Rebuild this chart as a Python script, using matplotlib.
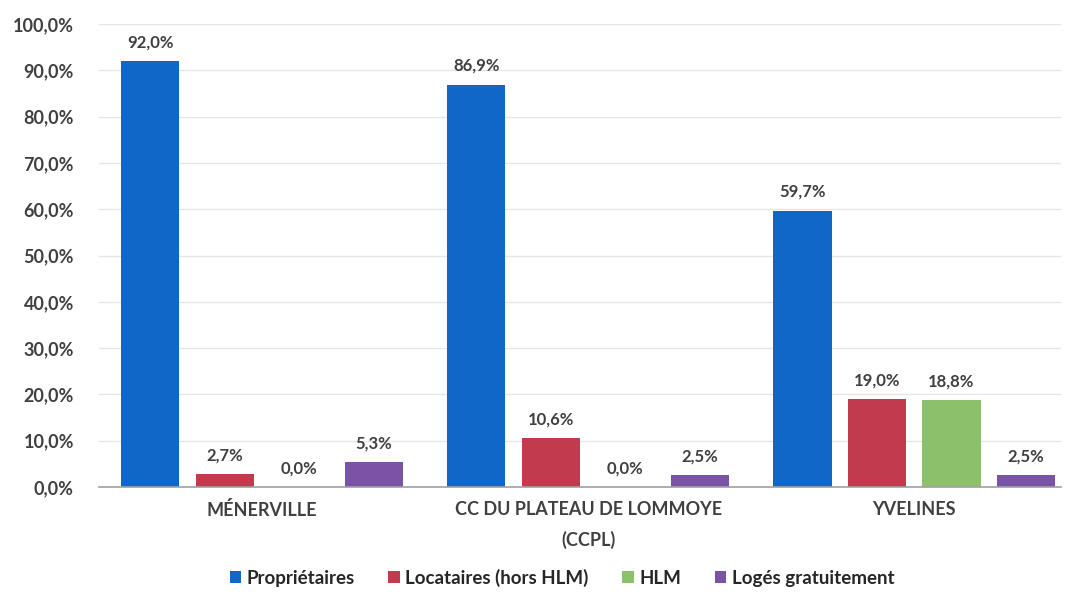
import matplotlib
matplotlib.use("Agg")
import matplotlib.pyplot as plt
import numpy as np

categories = ["MÉNERVILLE", "CC DU PLATEAU DE LOMMOYE\n(CCPL)", "YVELINES"]
series = ["Propriétaires", "Locataires (hors HLM)", "HLM", "Logés gratuitement"]
proprietaires = [92.0, 86.9, 59.7]
locataires = [2.7, 10.6, 19.0]
hlm = [0.0, 0.0, 18.8]
loges = [5.3, 2.5, 2.5]
values = [proprietaires, locataires, hlm, loges]
colors = ["#1167C7", "#C23A4E", "#8CC06A", "#7A52A6"]

plt.rcParams['font.family'] = ['Lato', 'DejaVu Sans']
txt_color = "#404040"

fig = plt.figure(figsize=(10.7, 5.94), dpi=100)
ax = fig.add_axes([99 / 1070, 107 / 594, 962 / 1070, 463 / 594])

x = np.arange(len(categories))
width = 0.178
step = 0.2285
for i, (name, vals, col) in enumerate(zip(series, values, colors)):
    pos = x + (i - 1.5) * step
    ax.bar(pos, vals, width, color=col, label=name, zorder=3)
    for p, v in zip(pos, vals):
        ax.text(p, v + 2.3, f"{v:.1f}%".replace(".", ","), ha="center", va="bottom",
                fontsize=12, color=txt_color, fontweight="bold")

ax.set_xlim(-0.5, 2.45)
ax.set_ylim(0, 100)
ticks = np.arange(0, 101, 10)
ax.set_yticks(ticks)
ax.set_yticklabels([f"{t:.1f}%".replace(".", ",") for t in ticks],
                   fontsize=13, color=txt_color, fontweight="bold")
ax.set_xticks(x)
ax.set_xticklabels(categories, fontsize=13, color=txt_color, fontweight="bold",
                   linespacing=1.85)
ax.tick_params(axis="both", length=0)
ax.tick_params(axis="x", pad=10)
ax.tick_params(axis="y", pad=18)
ax.grid(axis="y", color="#E6E6E6", linewidth=1, zorder=0)
for s in ["top", "right", "left"]:
    ax.spines[s].set_visible(False)
ax.spines["bottom"].set_color("#A0A0A0")
ax.spines["bottom"].set_linewidth(1.2)
ax.spines["bottom"].set_zorder(4)

fig.legend(loc="center", bbox_to_anchor=(562 / 1070, 1 - 578 / 594), ncol=4, frameon=False,
           handlelength=0.6, handleheight=0.6, handletextpad=0.3,
           columnspacing=1.8, labelcolor="#262626", prop={"weight": "bold", "size": 13.5})

fig.savefig("out.png", dpi=100)
